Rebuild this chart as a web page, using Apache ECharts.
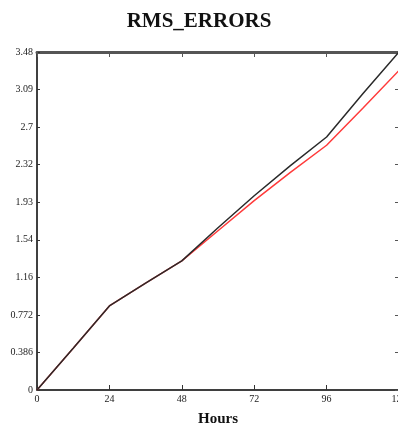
<!DOCTYPE html>
<html>
<head>
<meta charset="utf-8">
<script src="https://cdn.jsdelivr.net/npm/echarts@6/dist/echarts.min.js"></script>
<style>
html,body{margin:0;padding:0;background:#fff;}
#c{width:398px;height:427px;}
</style>
</head>
<body>
<div id="c"></div>
<script>
const hours = [0, 12, 24, 36, 48, 60, 72, 84, 96, 108, 120];
const blackSeries = [0, 0.43, 0.865, 1.10, 1.33, 1.67, 2.00, 2.31, 2.605, 3.05, 3.48];
const redSeries = [0, 0.43, 0.865, 1.10, 1.33, 1.64, 1.95, 2.24, 2.52, 2.90, 3.29];
const yTickLabels = ['0', '0.386', '0.772', '1.16', '1.54', '1.93', '2.32', '2.7', '3.09', '3.48'];
const xTickLabels = ['0', '24', '48', '72', '96', '120'];

const yMax = 3.48;
const yInt = yMax / 9;
const font = 'Liberation Serif';

const chart = echarts.init(document.getElementById('c'), null, {renderer: 'canvas'});
chart.setOption({
  animation: false,
  backgroundColor: '#fff',
  title: {
    text: 'RMS_ERRORS',
    left: 'center',
    top: 6,
    textStyle: {fontFamily: font, fontWeight: 'bold', fontSize: 21, color: '#111'}
  },
  grid: {left: 37, top: 52, width: 362, height: 338, containLabel: false, outerBoundsMode: 'none'},
  xAxis: [{
    type: 'value', min: 0, max: 120, interval: 24, position: 'bottom',
    name: 'Hours', nameLocation: 'middle', nameGap: 22,
    nameTextStyle: {fontFamily: font, fontWeight: 'bold', fontSize: 15, color: '#111'},
    axisLine: {show: true, onZero: false, lineStyle: {color: '#000', width: 1.5}},
    axisTick: {show: true, inside: true, length: 5, lineStyle: {color: '#333'}},
    axisLabel: {fontFamily: font, fontSize: 10, color: '#222', margin: 4,
      formatter: v => xTickLabels[Math.round(v / 24)]},
    splitLine: {show: false}
  }, {
    type: 'value', min: 0, max: 120, interval: 24, position: 'top',
    axisLine: {show: true, onZero: false, lineStyle: {color: '#555', width: 3}},
    axisTick: {show: true, inside: true, length: 5, lineStyle: {color: '#555'}},
    axisLabel: {show: false},
    splitLine: {show: false}
  }],
  yAxis: [{
    type: 'value', min: 0, max: yMax, interval: yInt, position: 'left',
    axisLine: {show: true, onZero: false, lineStyle: {color: '#000', width: 1.5}},
    axisTick: {show: true, inside: true, length: 3, lineStyle: {color: '#333'}},
    axisLabel: {fontFamily: font, fontSize: 10, color: '#222', margin: 4,
      formatter: v => yTickLabels[Math.round(v / yInt)]},
    splitLine: {show: false}
  }, {
    type: 'value', min: 0, max: yMax, interval: yInt, position: 'right',
    axisLine: {show: true, onZero: false, lineStyle: {color: '#555', width: 1}},
    axisTick: {show: true, inside: true, length: 4, lineStyle: {color: '#555'}},
    axisLabel: {show: false},
    splitLine: {show: false}
  }],
  series: [{
    type: 'line', name: 'red', showSymbol: false,
    data: hours.map((h, i) => [h, redSeries[i]]),
    lineStyle: {color: '#ff3b3b', width: 1.5}, z: 2
  }, {
    type: 'line', name: 'black', showSymbol: false,
    data: hours.map((h, i) => [h, blackSeries[i]]),
    lineStyle: {color: '#2a2a2a', width: 1.5}, z: 3
  }]
});
</script>
</body>
</html>
